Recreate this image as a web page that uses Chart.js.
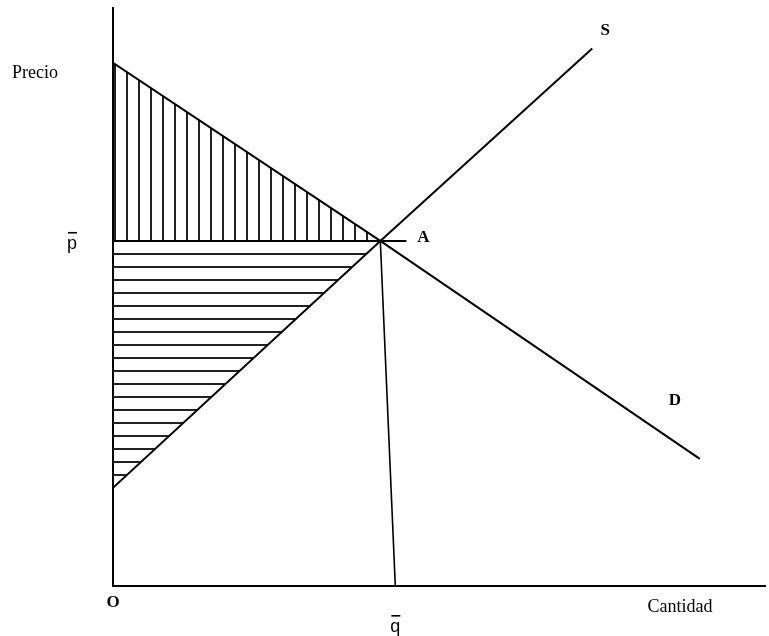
<!DOCTYPE html>
<html>
<head>
<meta charset="utf-8">
<script src="https://cdn.jsdelivr.net/npm/chart.js@4/dist/chart.umd.min.js"></script>
<style>
  body { margin: 0; background: #fff; }
  canvas { display: block; }
</style>
</head>
<body>
<canvas id="surplusChart" width="769" height="636"></canvas>
<script>
// valores (cantidad 0-100, precio 0-100)
const demandQ = [0, 41, 90];
const demandP = [90.5, 59.7, 22];
const supplyQ = [0, 41, 73.5];
const supplyP = [17, 59.7, 93];
const pBar = 59.7;
const qBar = 41;
const qBarFoot = 43.3;   // la línea de q̄ baja un poco inclinada
const pBarEnd = 45;

const toPoints = (qs, ps) => qs.map((q, i) => ({ x: q, y: ps[i] }));
const demand = toPoints(demandQ, demandP);
const supply = toPoints(supplyQ, supplyP);

// excedentes: tramo de cada curva hasta el equilibrio
const consumerSurplus = demand.filter(p => p.x <= qBar);
const producerSurplus = supply.filter(p => p.x <= qBar);

function hatch(vertical, step) {
    const c = document.createElement('canvas');
    c.width = vertical ? step : 8;
    c.height = vertical ? 8 : step;
    const g = c.getContext('2d');
    g.fillStyle = '#222';
    if (vertical) g.fillRect(Math.floor(step / 2), 0, 2, 8);
    else g.fillRect(0, Math.floor(step / 2), 8, 2);
    return g.createPattern(c, 'repeat');
}

const labelsPlugin = {
    id: 'labels',
    afterDraw(chart) {
        const { ctx, scales: { x, y } } = chart;
        const px = v => x.getPixelForValue(v);
        const py = v => y.getPixelForValue(v);
        ctx.save();
        ctx.fillStyle = '#000';
        ctx.textAlign = 'center';
        ctx.textBaseline = 'middle';

        ctx.font = '18px "Liberation Serif"';
        ctx.fillText('Precio', 35, 73);
        ctx.fillText('Cantidad', 680, 607);

        ctx.font = 'bold 17px "Liberation Serif"';
        ctx.fillText('O', px(0), 603);
        ctx.fillText('A', px(qBar) + 43, py(pBar) - 3);
        ctx.fillText('S', px(supplyQ[2]) + 13, py(supplyP[2]) - 18);
        ctx.fillText('D', px(demandQ[2]) - 25, py(demandP[2]) - 58);

        // p̄ y q̄ con su barra encima
        ctx.font = '18px "Liberation Sans"';
        const marks = [['p', 72, py(pBar) + 3], ['q', px(qBarFoot), 627]];
        marks.forEach(([t, mx, my]) => {
            ctx.fillText(t, mx, my);
            ctx.fillRect(mx - 4, my - 12, 9, 1.6);
        });
        ctx.restore();
    }
};

const lineStyle = {
    borderColor: '#000',
    borderWidth: 2,
    pointRadius: 0,
    tension: 0,
    fill: false
};

new Chart(document.getElementById('surplusChart'), {
    type: 'line',
    data: {
        datasets: [
            { ...lineStyle, label: 'D', data: demand },
            { ...lineStyle, label: 'S', data: supply },
            { ...lineStyle, label: 'p̄', data: [{ x: 0, y: pBar }, { x: pBarEnd, y: pBar }] },
            { ...lineStyle, label: 'q̄', borderWidth: 1.6, data: [{ x: qBar, y: pBar }, { x: qBarFoot, y: 0 }] },
            {
                label: 'Excedente del consumidor',
                data: consumerSurplus,
                borderWidth: 0,
                pointRadius: 0,
                fill: { value: pBar },
                backgroundColor: hatch(true, 12)
            },
            {
                label: 'Excedente del productor',
                data: producerSurplus,
                borderWidth: 0,
                pointRadius: 0,
                fill: { value: pBar },
                backgroundColor: hatch(false, 13)
            }
        ]
    },
    options: {
        responsive: false,
        animation: false,
        events: [],
        layout: { padding: { left: 113, right: 4, top: 8, bottom: 50 } },
        scales: {
            x: {
                type: 'linear',
                min: 0,
                max: 100,
                grid: { display: false, drawTicks: false },
                ticks: { display: false },
                border: { display: true, color: '#000', width: 2 }
            },
            y: {
                type: 'linear',
                min: 0,
                max: 100,
                grid: { display: false, drawTicks: false },
                ticks: { display: false },
                border: { display: true, color: '#000', width: 2 }
            }
        },
        plugins: {
            legend: { display: false },
            tooltip: { enabled: false }
        }
    },
    plugins: [labelsPlugin]
});
</script>
</body>
</html>
